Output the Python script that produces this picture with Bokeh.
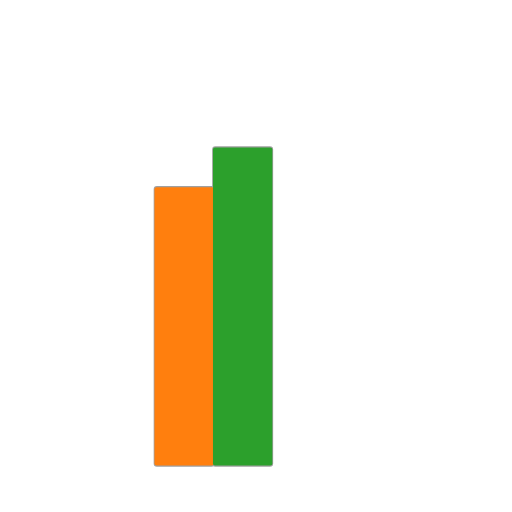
from bokeh.embed import file_html
from bokeh.models import ColumnDataSource, Range1d
from bokeh.plotting import figure
from bokeh.resources import INLINE

series = ["Series B", "Series C"]
values = [35, 40]
colors = ["#ff7f0e", "#2ca02c"]

# bars sit in slots 3 and 4 of a group, first slot left empty
xs = [3 + i for i in range(len(values))]

source = ColumnDataSource(data=dict(x=xs, top=values, series=series, color=colors))

p = figure(width=496, height=496, output_backend="svg", toolbar_location=None,
           x_range=Range1d(-0.14, 8.34), y_range=Range1d(-3.9, 58.5),
           min_border=0)
p.axis.visible = False
p.grid.visible = False
p.outline_line_color = None

# grey outline underneath, fills on top so the shared edge stays clean
p.vbar(x="x", top="top", bottom=0, width=1.0, source=source,
       fill_color=None, line_color="#a0a0a0", line_width=2.5,
       border_radius=2)
p.vbar(x="x", top="top", bottom=0, width=1.015, source=source,
       fill_color="color", line_color=None, border_radius=2)

open("out.html", "w").write(file_html(p, INLINE))
